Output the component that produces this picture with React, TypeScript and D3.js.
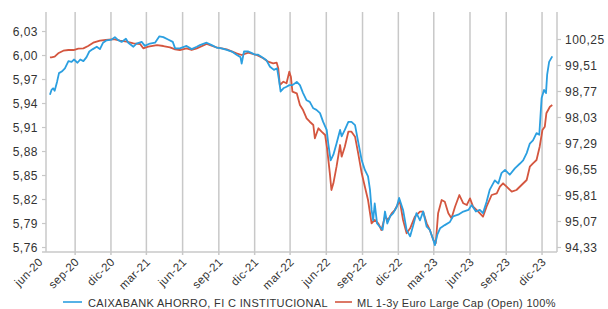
import React from 'react';
import * as d3 from 'd3';

const blueDates = [
  "2020-06-29","2020-07-03","2020-07-07","2020-07-11","2020-07-17","2020-07-22","2020-07-29","2020-08-06","2020-08-15","2020-08-23","2020-08-29",
  "2020-09-07","2020-09-14","2020-09-22","2020-09-30","2020-10-07","2020-10-16","2020-10-26","2020-11-03","2020-11-11","2020-11-20","2020-12-03",
  "2020-12-11","2020-12-20","2020-12-28","2021-01-08","2021-01-14","2021-01-27","2021-02-04","2021-02-17","2021-02-25","2021-03-10","2021-03-23",
  "2021-04-03","2021-04-13","2021-04-25","2021-05-07","2021-05-13","2021-05-25","2021-06-11","2021-06-24","2021-07-07","2021-07-15","2021-08-01",
  "2021-08-14","2021-08-26","2021-09-08","2021-09-21","2021-10-04","2021-10-16","2021-10-26","2021-10-29","2021-11-04","2021-11-15","2021-11-24",
  "2021-12-02","2021-12-10","2021-12-19","2021-12-31","2022-01-09","2022-01-19","2022-01-27","2022-02-01","2022-02-05","2022-02-12","2022-02-20",
  "2022-02-27","2022-03-07","2022-03-18","2022-03-26","2022-04-03","2022-04-12","2022-04-20","2022-04-29","2022-05-07","2022-05-16","2022-05-24",
  "2022-06-02","2022-06-06","2022-06-12","2022-06-19","2022-06-27","2022-07-06","2022-07-10","2022-07-18","2022-07-27","2022-08-04","2022-08-13",
  "2022-08-21","2022-08-30","2022-09-07","2022-09-15","2022-09-20","2022-09-24","2022-09-28","2022-10-02","2022-10-08","2022-10-15","2022-10-22",
  "2022-10-28","2022-11-03","2022-11-10","2022-11-18","2022-11-27","2022-12-03","2022-12-13","2022-12-22","2022-12-31","2023-01-08","2023-01-16",
  "2023-01-25","2023-02-02","2023-02-11","2023-02-19","2023-02-28","2023-03-04","2023-03-10","2023-03-17","2023-03-29","2023-04-11","2023-04-19",
  "2023-05-02","2023-05-15","2023-05-28","2023-06-05","2023-06-16","2023-06-26","2023-07-04","2023-07-13","2023-07-21","2023-08-03","2023-08-12",
  "2023-08-20","2023-08-29","2023-09-10","2023-09-23","2023-10-06","2023-10-14","2023-10-23","2023-10-31","2023-11-08","2023-11-17","2023-11-24",
  "2023-11-30","2023-12-06","2023-12-11","2023-12-14","2023-12-19","2023-12-27"
];
const blueValues = [
  5.951,5.957,5.959,5.956,5.967,5.978,5.980,5.984,5.993,5.992,5.995,
  5.991,5.995,5.993,5.998,6.005,6.008,6.011,6.008,6.016,6.019,6.020,
  6.023,6.019,6.017,6.021,6.016,6.011,6.015,6.017,6.012,6.015,6.016,
  6.024,6.023,6.020,6.017,6.009,6.009,6.012,6.008,6.011,6.013,6.016,
  6.013,6.010,6.009,6.007,6.005,6.001,5.998,5.990,6.005,6.005,6.003,
  6.001,6.001,5.998,5.994,5.986,5.982,5.984,5.969,5.955,5.959,5.961,
  5.963,5.963,5.967,5.963,5.953,5.944,5.942,5.934,5.932,5.928,5.917,
  5.907,5.890,5.869,5.876,5.890,5.907,5.899,5.907,5.917,5.917,5.913,
  5.892,5.869,5.857,5.849,5.832,5.807,5.794,5.815,5.790,5.786,5.782,
  5.805,5.790,5.799,5.803,5.811,5.822,5.807,5.782,5.774,5.788,5.803,
  5.794,5.805,5.786,5.782,5.769,5.763,5.776,5.784,5.788,5.792,5.799,
  5.801,5.805,5.807,5.813,5.805,5.807,5.803,5.817,5.832,5.844,5.840,
  5.853,5.857,5.851,5.859,5.865,5.869,5.878,5.890,5.894,5.903,5.901,
  5.947,5.957,5.953,5.976,5.992,5.999
];

const redDates = [
  "2020-06-29","2020-07-03","2020-07-11","2020-07-20","2020-08-02","2020-08-15","2020-08-28","2020-09-09","2020-09-22","2020-10-04","2020-10-17",
  "2020-11-03","2020-11-18","2020-12-03","2020-12-11","2020-12-24","2021-01-10","2021-01-27","2021-02-13","2021-02-21","2021-03-06","2021-03-28",
  "2021-04-13","2021-04-30","2021-05-13","2021-05-25","2021-06-11","2021-06-24","2021-07-07","2021-08-01","2021-08-26","2021-09-21","2021-10-16",
  "2021-10-29","2021-11-15","2021-12-06","2021-12-23","2022-01-04","2022-01-17","2022-01-26","2022-01-30","2022-02-03","2022-02-12","2022-02-20",
  "2022-02-27","2022-03-03","2022-03-07","2022-03-18","2022-03-26","2022-04-03","2022-04-12","2022-04-20","2022-04-29","2022-05-03","2022-05-12",
  "2022-05-20","2022-05-29","2022-06-03","2022-06-10","2022-06-14","2022-06-19","2022-06-27","2022-07-06","2022-07-10","2022-07-18","2022-07-27",
  "2022-08-04","2022-08-13","2022-08-21","2022-08-30","2022-09-07","2022-09-15","2022-09-24","2022-10-02","2022-10-11","2022-10-19","2022-10-28",
  "2022-11-05","2022-11-14","2022-11-22","2022-12-01","2022-12-05","2022-12-13","2022-12-22","2022-12-31","2023-01-12","2023-01-25","2023-02-02",
  "2023-02-11","2023-02-19","2023-02-28","2023-03-06","2023-03-12","2023-03-21","2023-03-29","2023-04-07","2023-04-15","2023-04-24","2023-05-05",
  "2023-05-15","2023-05-24","2023-06-01","2023-06-09","2023-06-22","2023-07-04","2023-07-13","2023-07-26","2023-08-08","2023-08-16","2023-08-24",
  "2023-09-02","2023-09-15","2023-09-27","2023-10-10","2023-10-23","2023-10-31","2023-11-08","2023-11-17","2023-11-25","2023-12-02","2023-12-08",
  "2023-12-12","2023-12-21","2023-12-27"
];
const redValues = [
  99.74,99.743,99.760,99.857,99.931,99.951,99.951,99.988,99.999,100.065,100.159,
  100.216,100.236,100.256,100.256,100.216,100.187,100.142,100.122,99.999,100.045,100.093,
  100.065,100.028,99.971,99.951,99.999,99.951,99.999,100.122,100.028,99.971,99.857,
  99.809,99.874,99.809,99.715,99.618,99.573,99.590,99.430,98.955,99.049,99.003,
  99.334,99.191,98.764,98.719,98.386,98.243,98.007,97.910,97.817,97.438,97.723,
  97.626,97.532,97.153,96.442,95.967,96.157,96.630,97.247,96.914,97.199,97.626,
  97.626,97.484,97.011,96.442,96.060,95.682,95.019,95.113,95.019,94.828,95.207,
  95.113,95.303,95.397,95.588,95.634,95.113,94.734,94.876,95.207,95.349,95.349,
  95.019,94.828,94.543,94.450,95.303,95.682,95.634,95.303,95.161,95.491,95.824,
  95.588,95.540,95.730,95.491,95.349,95.207,95.491,95.824,95.873,96.060,96.157,
  96.060,95.918,95.967,96.109,96.251,96.630,96.726,96.820,97.199,97.674,97.768,
  98.150,98.337,98.386
];

const leftTicks = [5.76, 5.79, 5.82, 5.85, 5.88, 5.91, 5.94, 5.97, 6.00, 6.03];
const rightTicks = [94.33, 95.07, 95.81, 96.55, 97.29, 98.03, 98.77, 99.51, 100.25];
const xTickDates = [
  "2020-06-01","2020-09-01","2020-12-01","2021-03-01","2021-06-01","2021-09-01","2021-12-01",
  "2022-03-01","2022-06-01","2022-09-01","2022-12-01","2023-03-01","2023-06-01","2023-09-01","2023-12-01"
];
const xTickLabels = [
  "jun-20","sep-20","dic-20","mar-21","jun-21","sep-21","dic-21",
  "mar-22","jun-22","sep-22","dic-22","mar-23","jun-23","sep-23","dic-23"
];
const seriesNames = ["CAIXABANK AHORRO, FI C INSTITUCIONAL", "ML 1-3y Euro Large Cap (Open) 100%"];

const BLUE = "#2b9fe0";
const RED = "#d4563f";
const GRID = "#c8c8c8";
const TEXT = "#333333";
const FONT = "'Liberation Sans', Arial, sans-serif";

export default function App() {
  const parse = d3.utcParse("%Y-%m-%d");
  const left = 46, right = 557, top = 12, bottom = 252;
  const x = d3.scaleUtc().domain([parse("2020-06-19")!, parse("2024-01-08")!]).range([left, right]);
  const yL = d3.scaleLinear().domain([5.7544, 6.0544]).range([bottom, top]);
  const yR = d3.scaleLinear().domain([94.202, 101.033]).range([bottom, top]);
  const fmt = (v: number) => d3.format(".2f")(v).replace(".", ",");

  const blue = blueDates.map((d, i) => [x(parse(d)!), yL(blueValues[i])] as [number, number]);
  const red = redDates.map((d, i) => [x(parse(d)!), yR(redValues[i])] as [number, number]);
  const line = d3.line();

  return (
    <svg width={608} height={309} style={{ position: 'absolute', left: 0, top: 0, background: '#fff' }}
      fontFamily={FONT}>
      <rect x={0} y={0} width={608} height={309} fill="#fff" />
      {xTickDates.map((d, i) => {
        const xx = x(parse(d)!);
        if (xx <= left) return null;
        return <line key={'g' + i} x1={xx} x2={xx} y1={top} y2={bottom + 3} stroke={GRID} strokeWidth={1.5} />;
      })}
      <line x1={left} x2={left} y1={top} y2={bottom} stroke={GRID} strokeWidth={1.5} />
      <line x1={right} x2={right} y1={top} y2={bottom} stroke={GRID} strokeWidth={1.5} />
      <line x1={42} x2={right} y1={bottom} y2={bottom} stroke={GRID} strokeWidth={1.5} />
      {leftTicks.map((t, i) => (
        <g key={'l' + i}>
          <line x1={42} x2={left} y1={yL(t)} y2={yL(t)} stroke={GRID} strokeWidth={1.2} />
          <text x={38} y={yL(t)} dy="0.36em" textAnchor="end" fontSize={12} fill={TEXT} letterSpacing={0.5}>{fmt(t)}</text>
        </g>
      ))}
      {rightTicks.map((t, i) => (
        <g key={'r' + i}>
          <line x1={right} x2={561} y1={yR(t)} y2={yR(t)} stroke={GRID} strokeWidth={1.2} />
          <text x={565} y={yR(t)} dy="0.36em" textAnchor="start" fontSize={12} fill={TEXT} letterSpacing={0.5}>{fmt(t)}</text>
        </g>
      ))}
      {xTickDates.map((d, i) => {
        const xx = x(parse(d)!);
        return (
          <text key={'x' + i} transform={`translate(${xx - 1},${bottom + 5}) rotate(-45)`} textAnchor="end"
            dy="0.7em" fontSize={11.5} fill={TEXT} letterSpacing={0.4}>{xTickLabels[i]}</text>
        );
      })}
      <path d={line(red) || ''} fill="none" stroke={RED} strokeWidth={1.8} strokeLinejoin="round" />
      <path d={line(blue) || ''} fill="none" stroke={BLUE} strokeWidth={1.8} strokeLinejoin="round" />
      <line x1={63} x2={82} y1={302} y2={302} stroke={BLUE} strokeWidth={1.6} />
      <text x={88} y={306.5} fontSize={11} fill={TEXT} letterSpacing={0.35}>{seriesNames[0]}</text>
      <line x1={335} x2={352} y1={302} y2={302} stroke={RED} strokeWidth={1.6} />
      <text x={357} y={306.5} fontSize={11} fill={TEXT} letterSpacing={0.3}>{seriesNames[1]}</text>
    </svg>
  );
}
